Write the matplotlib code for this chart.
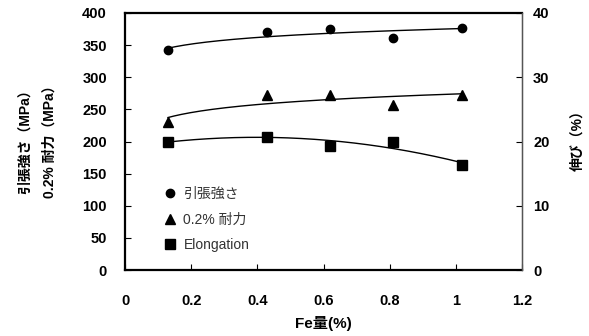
import numpy as np
import matplotlib
matplotlib.use("Agg")
import matplotlib.pyplot as plt

plt.rcParams['font.family'] = ['Liberation Sans', 'Noto Sans CJK JP', 'DejaVu Sans']

# data
fe = [0.13, 0.43, 0.62, 0.81, 1.02]
tensile = [342, 370, 375, 361, 377]       # MPa
proof = [231, 273, 273, 257, 272]         # MPa
elong = [20.0, 20.7, 19.3, 20.0, 16.3]    # %

x_ticks = [0, 0.2, 0.4, 0.6, 0.8, 1, 1.2]
x_ticklabels = ["0", "0.2", "0.4", "0.6", "0.8", "1", "1.2"]

fig = plt.figure(figsize=(5.89, 3.36), dpi=100)
ax = fig.add_axes([125/589, 1-270/336, 397/589, 257/336])
ax2 = ax.twinx()

xs = np.linspace(fe[0], fe[-1], 200)
fe_a = np.array(fe)

# log trendlines for strength, polynomial for elongation
b, a = np.polyfit(np.log(fe_a), tensile, 1)
ax.plot(xs, a + b*np.log(xs), color='black', lw=1.0)
b, a = np.polyfit(np.log(fe_a), proof, 1)
ax.plot(xs, a + b*np.log(xs), color='black', lw=1.0)
pe = np.polyfit(fe_a, elong, 2)
ax2.plot(xs, np.polyval(pe, xs), color='black', lw=1.0)

ax.plot(fe, tensile, 'o', color='black', ms=6, label='引張強さ')
ax.plot(fe, proof, '^', color='black', ms=6.5, label='0.2% 耐力')
ax2.plot(fe, elong, 's', color='black', ms=6.5, label='Elongation')

ax.set_xlim(0, 1.2)
ax.set_ylim(0, 400)
ax2.set_ylim(0, 40)
ax.set_xticks(x_ticks)
ax.set_xticklabels(x_ticklabels)
ax.set_yticks(np.arange(0, 401, 50))
ax2.set_yticks(np.arange(0, 41, 10))

ax.tick_params(axis='x', direction='in', length=4, pad=17, labelsize=10.5)
ax.tick_params(axis='y', direction='in', length=4, pad=13, labelsize=10.5)
ax2.tick_params(axis='y', direction='in', length=4, pad=8, labelsize=10.5)
for lab in ax.get_xticklabels() + ax.get_yticklabels() + ax2.get_yticklabels():
    lab.set_fontweight('bold')

for s in ['left', 'bottom', 'top']:
    ax.spines[s].set_linewidth(1.6)
ax2.spines['right'].set_linewidth(1.0)
ax2.spines['right'].set_color('#555555')
for s in ['left', 'bottom', 'top']:
    ax2.spines[s].set_visible(False)

ax.set_xlabel('Fe量(%)', fontsize=11, fontweight='bold', labelpad=6)
fig.text(25/589, 1-138/336, '引張強さ（MPa）', rotation=90, ha='center', va='center',
         fontsize=10, fontweight='bold')
fig.text(50/589, 1-138/336, '0.2% 耐力（MPa）', rotation=90, ha='center', va='center',
         fontsize=10, fontweight='bold')
fig.text(577/589, 1-137/336, '伸び（%）', rotation=90, ha='center', va='center',
         fontsize=10, fontweight='bold')

h1, l1 = ax.get_legend_handles_labels()
h2, l2 = ax2.get_legend_handles_labels()
ax2.legend(h1 + h2, l1 + l2, loc='lower left', bbox_to_anchor=(0.065, 0.02),
           frameon=False, fontsize=10, handletextpad=0.45, labelspacing=0.85,
           handlelength=1.0, labelcolor='#333333')

fig.savefig('out.png', dpi=100)
